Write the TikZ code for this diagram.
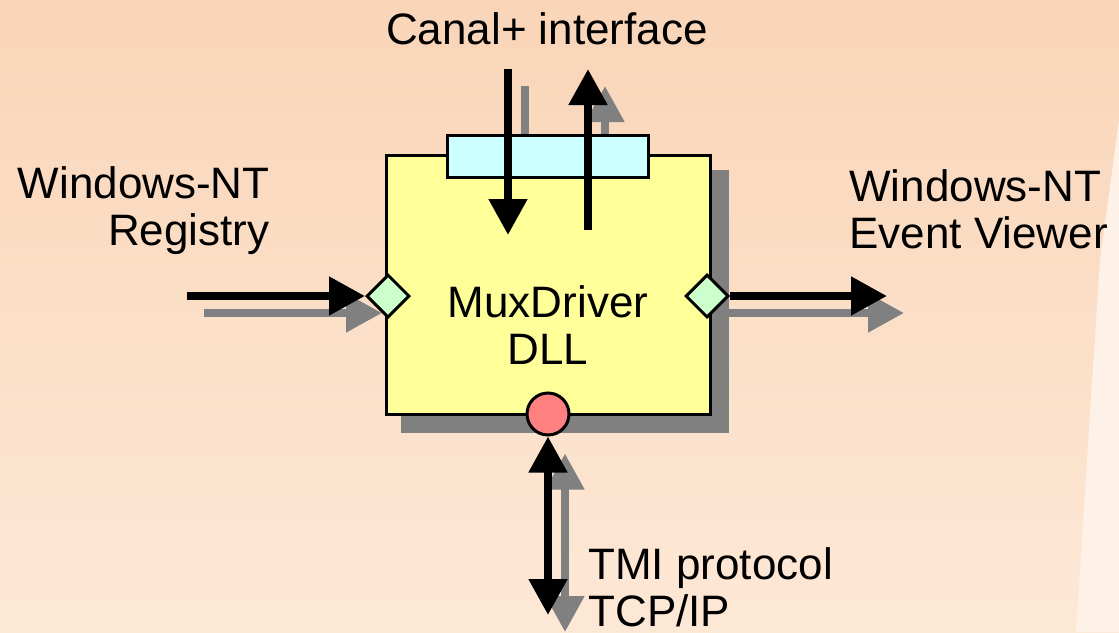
\documentclass[tikz,border=0pt]{standalone}
\usepackage{fontspec}
\setmainfont{Liberation Sans}
\usetikzlibrary{arrows.meta,positioning,shapes.geometric}

\definecolor{peachtop}{RGB}{249,213,184}
\definecolor{peachbot}{RGB}{253,232,214}
\definecolor{peachlight}{RGB}{254,242,232}
\definecolor{dllyellow}{RGB}{255,255,153}
\definecolor{ifcyan}{RGB}{204,255,255}
\definecolor{portgreen}{RGB}{204,255,204}
\definecolor{portred}{RGB}{255,128,128}
\definecolor{dropgray}{RGB}{128,128,128}

\pgfdeclarelayer{back}
\pgfdeclarelayer{drops}
\pgfsetlayers{back,drops,main}

\begin{document}
\begin{tikzpicture}[
    x=0.5pt, y=-0.5pt,
    txt/.style={inner sep=0pt, font=\fontsize{22}{23.5}\selectfont},
    module/.style={draw, line width=1.5pt, fill=dllyellow, minimum width=162pt, minimum height=129.5pt, inner sep=0pt},
    ifbar/.style={draw, line width=1.5pt, fill=ifcyan, minimum width=100.5pt, minimum height=21pt, inner sep=0pt},
    gport/.style={draw, diamond, aspect=1, line width=1.5pt, fill=portgreen, minimum size=21.5pt, inner sep=0pt},
    rport/.style={draw, circle, line width=1.5pt, fill=portred, minimum size=21pt, inner sep=0pt},
    link/.style={line width=4pt, -{Triangle[length=18pt,width=18.5pt]}},
    dlink/.style={line width=4pt, {Triangle[length=18pt,width=18.5pt]}-{Triangle[length=18pt,width=18.5pt]}},
    drop/.style={dropgray, draw=dropgray}
]
\useasboundingbox (0,0) rectangle (1119,632);

% background
\begin{pgfonlayer}{back}
\shade[top color=peachtop, bottom color=peachbot] (0,0) rectangle (1119,632);
\fill[peachlight] (1119,120) -- (1119,632) -- (1076,632) -- (1100,260) -- cycle;
\end{pgfonlayer}

% the DLL and its ports
\node[module] (dll) at (548,284.5) {};
\node[ifbar] (iface) at (547.5,156) {};
\node[gport] (regport) at (388,296) {};
\node[gport] (evport) at (707,296) {};
\node[rport] (tmiport) at (548,414) {};

% texts
\node[txt, anchor=base] (canal) at (547,44) {Canal+ interface};
\node[txt, align=right, anchor=east] (registry) at (270,211) {Windows-NT\\Registry};
\node[txt, align=left, anchor=west] (viewer) at (849,209) {Windows-NT\\Event Viewer};
\node[txt, align=center] (dllname) at (548,325) {MuxDriver\\DLL};
\node[txt, align=left, anchor=west] (tmi) at (588,587) {TMI protocol\\TCP/IP};

% free ends
\coordinate (inA) at (508,69);
\coordinate (inB) at (508,235);
\coordinate (outA) at (588,230);
\coordinate (outB) at (588,69);
\coordinate (regsrc) at (187,296);
\coordinate (evdst) at (887,296);
\coordinate (netend) at (548,615);

% connectors
\draw[link] (inA) -- (inB);
\draw[link] (outA) -- (outB);
\draw[link] (regsrc) -- (regport.west);
\draw[link] (evport.east) -- (evdst);
\draw[dlink] (tmiport.south) -- (netend);

% drop shadows
\begin{pgfonlayer}{drops}
\fill[drop] ([shift={(17,17)}]dll.north west) rectangle ([shift={(17,17)}]dll.south east);
\draw[link, drop] ([shift={(17,17)}]inA) -- ([shift={(17,17)}]inB);
\draw[link, drop] ([shift={(17,17)}]outA) -- ([shift={(17,17)}]outB);
\draw[link, drop] ([shift={(17,17)}]regsrc) -- ([shift={(17,17)}]regport.west);
\draw[link, drop] ([shift={(17,17)}]evport.center) -- ([shift={(17,17)}]evdst);
\draw[dlink, drop] ([shift={(17,17)}]tmiport.south) -- ([shift={(17,17)}]netend);
\end{pgfonlayer}
\end{tikzpicture}
\end{document}
